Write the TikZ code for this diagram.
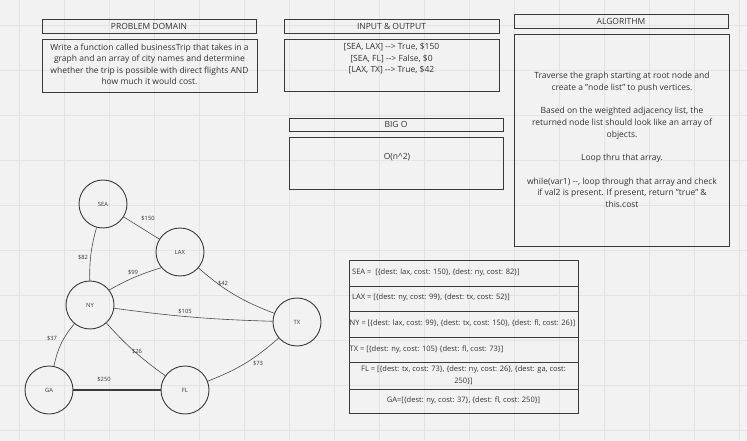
\documentclass[tikz,border=0pt]{standalone}
\usepackage{fontspec}
\setmainfont{Open Sans}
\definecolor{bg}{HTML}{F2F2F2}
\definecolor{gridc}{HTML}{E3E3E3}
\definecolor{boxc}{HTML}{3A3A3A}
\definecolor{txt}{HTML}{333333}
\definecolor{edgec}{HTML}{4A4A4A}
\tikzset{
  boxnode/.style={draw=boxc, line width=0.9pt, rectangle, inner sep=0pt},
  hdr/.style={font=\fontsize{8.5}{9}\selectfont, text=txt},
  body/.style={font=\fontsize{8.5}{11.5}\selectfont, text=txt, align=center, inner sep=0pt},
  row/.style={draw=boxc, line width=0.9pt, rectangle, inner sep=0pt, minimum width=229pt},
  rowtxt/.style={font=\fontsize{7.5}{12}\selectfont, text=txt, inner sep=0pt, align=center},
  city/.style={circle, draw=boxc, line width=0.9pt, minimum size=48pt, inner sep=0pt, font=\fontsize{5.8}{7}\selectfont, text=txt},
  edge/.style={draw=edgec, line width=0.6pt},
  cost/.style={font=\fontsize{5.8}{7}\selectfont, text=txt, inner sep=0pt}
}
\begin{document}
\begin{tikzpicture}[x=1pt,y=-1pt]
\useasboundingbox (0,0) rectangle (747,441);
\fill[bg] (0,0) rectangle (747,441);
\foreach \x in {19,64,...,739} \draw[gridc, line width=0.5pt] (\x,0) -- (\x,441);
\foreach \y in {25,70,...,430} \draw[gridc, line width=0.5pt] (0,\y) -- (747,\y);

% headers and bodies
\node[boxnode, minimum width=214pt, minimum height=14pt, hdr] (pdh) at (149,26) {PROBLEM DOMAIN};
\node[boxnode, minimum width=215pt, minimum height=53pt] (pdb) at (149.5,65.5) {};
\node[body] (pdt) at (149.5,64.5) {Write a function called businessTrip that takes in a\\graph and an array of city names and determine\\whether the trip is possible with direct flights AND\\how much it would cost.};

\node[boxnode, minimum width=215pt, minimum height=14pt, hdr] (ioh) at (391.5,26) {INPUT \& OUTPUT};
\node[boxnode, minimum width=215pt, minimum height=52pt] (iob) at (391.5,65) {};
\node[body] (iot) at (391.5,58.5) {[SEA, LAX] -{}-> True, \$150\\{}[SEA, FL] -{}-> False, \$0\\{}[LAX, TX] -{}-> True, \$42};

\node[boxnode, minimum width=214pt, minimum height=14pt, hdr] (alh) at (621,21) {ALGORITHM};
\node[boxnode, minimum width=215pt, minimum height=212pt] (alb) at (621.5,140) {};
\node[body, font=\fontsize{8.5}{11.7}\selectfont] (alt) at (622,140) {Traverse the graph starting at root node and\\create a "node list" to push vertices.\\[11.7pt]Based on the weighted adjacency list, the\\returned node list should look like an array of\\objects.\\[11.7pt]Loop thru that array.\\[11.7pt]while(var1) -{}-, loop through that array and check\\if val2 is present. If present, return "true" \&\\this.cost};

\node[boxnode, minimum width=214pt, minimum height=13pt, hdr] (boh) at (396,124.5) {BIG O};
\node[boxnode, minimum width=214pt, minimum height=52pt] (bob) at (396,163) {};
\node[body] (bot) at (397,157) {O(n\textasciicircum 2)};

% adjacency list rows
\node[row, minimum height=26pt] (r1) at (463.5,273) {};
\node[row, minimum height=25pt] (r2) at (463.5,298.5) {};
\node[row, minimum height=26pt] (r3) at (463.5,324) {};
\node[row, minimum height=25pt] (r4) at (463.5,349.5) {};
\node[row, minimum height=27pt] (r5) at (463.5,375.5) {};
\node[row, minimum height=24pt] (r6) at (463.5,401) {};
\node[rowtxt, anchor=west] (t1) at (352,272.5) {SEA =~ [\{dest: lax, cost: 150\}, \{dest: ny, cost: 82\}]};
\node[rowtxt, anchor=west] (t2) at (352,297.5) {LAX = [\{dest: ny, cost: 99\}, \{dest: tx, cost: 52\}]};
\node[rowtxt, anchor=west] (t3) at (349.5,323.5) {NY = [\{dest: lax, cost: 99\}, \{dest: tx, cost: 150\}, \{dest: fl, cost: 26\}]};
\node[rowtxt, anchor=west] (t4) at (349.5,349.5) {TX = [\{dest: ny, cost: 105\} \{dest: fl, cost: 73\}]};
\node[rowtxt] (t5) at (463.5,375) {FL = [\{dest: tx, cost: 73\}, \{dest: ny, cost: 26\}, \{dest: ga, cost:\\250\}]};
\node[rowtxt] (t6) at (463.5,401) {GA=[\{dest: ny, cost: 37\}, \{dest: fl, cost: 250\}]};

% graph
\node[city] (sea) at (103,204) {SEA};
\node[city] (lax) at (180,252) {LAX};
\node[city] (ny) at (90,305) {NY};
\node[city] (tx) at (297,322) {TX};
\node[city] (fl) at (185,390) {FL};
\node[city] (ga) at (49,390) {GA};

\draw[edge] (sea) -- (lax);
\draw[edge] (sea) to[bend right=8] (ny);
\draw[edge] (lax.220) to[bend right=6] (ny.38);
\draw[edge] (lax) to[bend right=10] (tx);
\draw[edge] (ny) to[bend right=3] (tx);
\draw[edge] (tx) to[bend left=10] (fl);
\draw[edge] (ny) to[bend right=14] (ga);
\draw[edge] (ny) to[bend right=6] (fl);
\draw[draw=boxc, line width=1.1pt] (ga) -- (fl);

\node[cost] (c150) at (148,218) {\$150};
\node[cost] (c82) at (83,257) {\$82};
\node[cost] (c99) at (133,272) {\$99};
\node[cost] (c42) at (223,283) {\$42};
\node[cost] (c105) at (185,311.5) {\$105};
\node[cost] (c73) at (258,363) {\$73};
\node[cost] (c37) at (52,338) {\$37};
\node[cost] (c26) at (137,351) {\$26};
\node[cost] (c250) at (104,379) {\$250};
\end{tikzpicture}
\end{document}
